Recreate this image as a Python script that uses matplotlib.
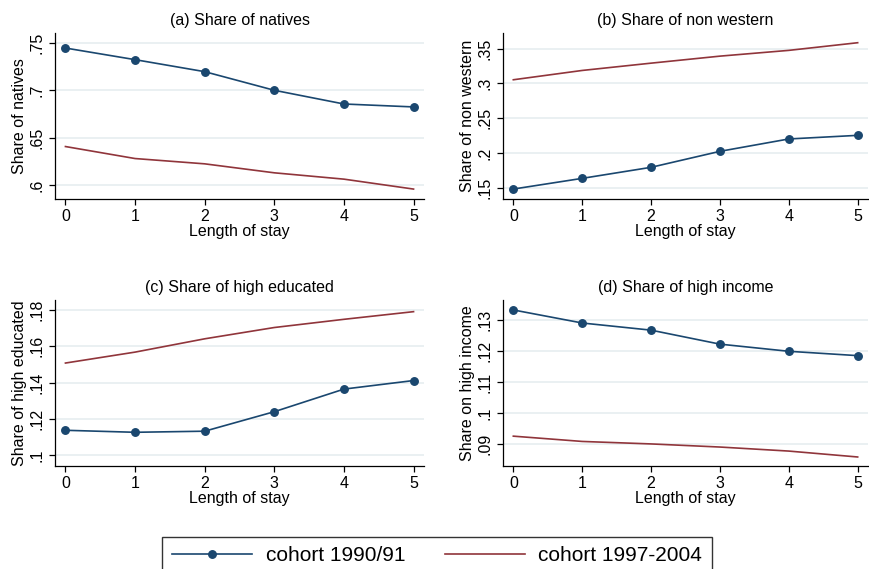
import matplotlib
matplotlib.use("Agg")
import matplotlib.pyplot as plt
from matplotlib.ticker import FixedLocator, FuncFormatter

plt.rcParams['font.family'] = ['Liberation Sans', 'DejaVu Sans']

stay = [0, 1, 2, 3, 4, 5]

# cohort 1990/91 (blue, with markers) and cohort 1997-2004 (red)
natives_old = [0.7447, 0.7324, 0.7197, 0.7000, 0.6855, 0.6824]
natives_new = [0.6405, 0.6278, 0.6222, 0.6127, 0.6060, 0.5955]

nonwest_old = [0.1480, 0.1634, 0.1793, 0.2023, 0.2201, 0.2253]
nonwest_new = [0.3053, 0.3187, 0.3292, 0.3393, 0.3476, 0.3586]

educ_old = [0.1138, 0.1127, 0.1133, 0.1240, 0.1364, 0.1411]
educ_new = [0.1507, 0.1567, 0.1640, 0.1702, 0.1747, 0.1789]

income_old = [0.1332, 0.1290, 0.1267, 0.1222, 0.1199, 0.1185]
income_new = [0.0926, 0.0909, 0.0901, 0.0891, 0.0878, 0.0859]

titles = ["(a) Share of natives", "(b) Share of non western",
          "(c) Share of high educated", "(d) Share of high income"]
ylabels = ["Share of natives", "Share of non western",
           "Share of high educated", "Share on high income"]
yticks = [[0.6, 0.65, 0.7, 0.75],
          [0.15, 0.2, 0.25, 0.3, 0.35],
          [0.1, 0.12, 0.14, 0.16, 0.18],
          [0.09, 0.1, 0.11, 0.12, 0.13]]
ylims = [(0.585, 0.7606), (0.1337, 0.3726), (0.0942, 0.1853), (0.083, 0.1364)]
old_series = [natives_old, nonwest_old, educ_old, income_old]
new_series = [natives_new, nonwest_new, educ_new, income_new]

BLUE = "#1a476f"
RED = "#90353b"
GRID = "#e6eef0"

W, H = 869, 569
fig = plt.figure(figsize=(W / 100, H / 100), dpi=100)

boxes = [(55, 33, 424, 199), (503, 33, 868, 199),
         (55, 300, 424, 466), (503, 300, 868, 466)]


def fmt(v, pos):
    s = ("%.2f" % v).rstrip("0")
    if s.startswith("0"):
        s = s[1:]
    return s


for i in range(4):
    l, t, r, b = boxes[i]
    ax = fig.add_axes([l / W, 1 - b / H, (r - l) / W, (b - t) / H])
    ax.plot(stay, old_series[i], color=BLUE, lw=1.2, marker="o", ms=5.4,
            label="cohort 1990/91")
    ax.plot(stay, new_series[i], color=RED, lw=1.2, label="cohort 1997-2004")
    ax.set_xlim(-0.15, 5.15)
    ax.set_ylim(*ylims[i])
    ax.set_xticks(stay)
    ax.yaxis.set_major_locator(FixedLocator(yticks[i]))
    ax.yaxis.set_major_formatter(FuncFormatter(fmt))
    ax.grid(axis="y", color=GRID, lw=1.2)
    ax.set_axisbelow(True)
    for s in ["top", "right"]:
        ax.spines[s].set_visible(False)
    for s in ["left", "bottom"]:
        ax.spines[s].set_linewidth(0.9)
    ax.tick_params(labelsize=11.5, length=4, width=0.9)
    for lab in ax.get_yticklabels():
        lab.set_rotation(90)
        lab.set_va("center")
    ax.set_title(titles[i], fontsize=11.5, pad=6)
    ax.set_xlabel("Length of stay", fontsize=11.5, labelpad=0)
    ax.set_ylabel(ylabels[i], fontsize=11.5, labelpad=2)
    if i == 0:
        handles, labels = ax.get_legend_handles_labels()

leg = fig.legend(handles, labels, loc="upper center", ncol=2,
                 bbox_to_anchor=(437 / W, 1 - 536.7 / H), fontsize=15,
                 frameon=True, fancybox=False, edgecolor="black",
                 handlelength=3.85, columnspacing=1.9, borderpad=0.45,
                 handletextpad=0.65, borderaxespad=0)
leg.get_frame().set_linewidth(1.0)

fig.savefig("out.png", dpi=100)
